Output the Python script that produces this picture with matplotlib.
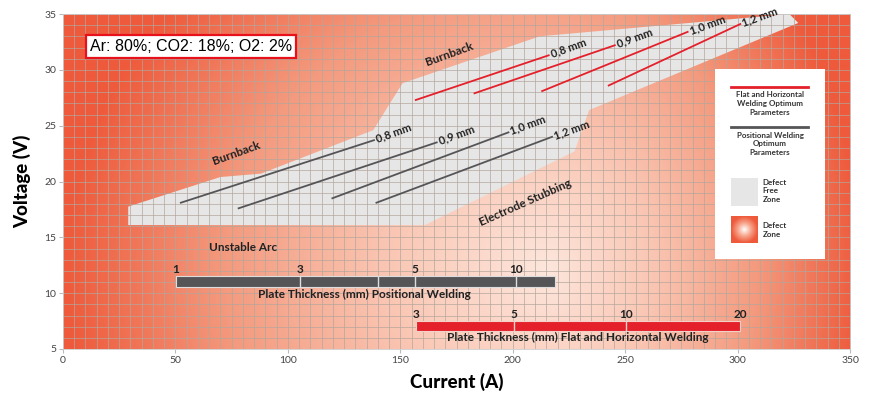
import matplotlib
matplotlib.use("Agg")
import matplotlib.pyplot as plt
import numpy as np
from matplotlib.patches import Polygon, Rectangle
from matplotlib.colors import LinearSegmentedColormap

# wire diameters
wires = ["0,8 mm", "0,9 mm", "1,0 mm", "1,2 mm"]

# positional welding optimum lines: start / end (A, V)
pos_x0 = [52.4, 78.1, 119.8, 139.4]
pos_y0 = [18.1, 17.6, 18.5, 18.1]
pos_x1 = [138.3, 166.2, 198.1, 217.5]
pos_y1 = [23.7, 23.5, 24.4, 24.0]

# flat and horizontal optimum lines
flat_x0 = [156.9, 183.0, 213.1, 242.7]
flat_y0 = [27.3, 27.9, 28.1, 28.6]
flat_x1 = [216.0, 245.4, 277.8, 301.2]
flat_y1 = [31.3, 32.2, 33.4, 34.1]

# defect free zone outline
zone_x = [29, 70, 88, 138, 151, 212, 323, 327, 234, 227.5, 161, 29]
zone_y = [17.75, 20.4, 20.7, 24.6, 28.8, 33.0, 35.0, 34.2, 26.4, 22.7, 16.1, 16.1]

# plate thickness scales (mm -> current)
pos_thick = ["1", "3", "", "5", "10"]
pos_amps = [50.2, 105.5, 140.1, 156.4, 201.5]
pos_end = 218.6
flat_thick = ["3", "5", "10", "20"]
flat_amps = [156.9, 200.4, 250.3, 301.2]

RED = "#e4202a"
DARK = "#555558"
FONT = "Lato"

fig = plt.figure(figsize=(8.71, 3.99), dpi=100)
ax = fig.add_axes([63 / 871, 50 / 399, 787 / 871, 335 / 399])
ax.set_xlim(0, 350)
ax.set_ylim(5, 35)

# background: defect zone gradient, light in the middle, red at the edges
xs = np.linspace(0, 350, 700)
ys = np.linspace(5, 35, 300)
X, Y = np.meshgrid(xs, ys)
rx = np.where(X < 215, 215.0, 140.0)
d = np.sqrt(((X - 215) / rx) ** 2 + ((Y - 12) / 38) ** 2)
d = np.clip(d, 0, 1)
cmap = LinearSegmentedColormap.from_list(
    "bg", ["#fde6dc", "#fac6b3", "#f49a7e", "#ee5a3b"])
ax.imshow(d, extent=[0, 350, 5, 35], origin="lower", cmap=cmap, vmin=0, vmax=1,
          aspect="auto", zorder=0, interpolation="bilinear")

# defect free zone
ax.add_patch(Polygon(np.column_stack([zone_x, zone_y]), closed=True,
                     facecolor="#e6e6e6", edgecolor="none", zorder=1))

# grid every 5 A and 1 V
ax.set_xticks(np.arange(0, 351, 50))
ax.set_yticks(np.arange(5, 36, 5))
ax.set_xticks(np.arange(0, 351, 5), minor=True)
ax.set_yticks(np.arange(5, 36, 1), minor=True)
ax.grid(which="both", color="#b3a69c", alpha=0.7, lw=0.7)
ax.tick_params(which="minor", length=0)
ax.tick_params(which="major", length=3, color="#bbbbbb", labelsize=7.5,
               labelcolor="#444444", pad=2)
for lab in ax.get_xticklabels() + ax.get_yticklabels():
    lab.set_fontfamily(FONT)
for s in ax.spines.values():
    s.set_color("#cccccc")
    s.set_linewidth(0.6)

# optimum parameter lines with wire labels
wire_kw = dict(rotation=20, rotation_mode="anchor", ha="left", va="center",
               fontsize=8, fontweight="bold", family=FONT, color="#222222", zorder=5)
for i, w in enumerate(wires):
    ax.plot([pos_x0[i], pos_x1[i]], [pos_y0[i], pos_y1[i]], color=DARK, lw=1.3, zorder=3)
    ax.text(pos_x1[i] + 1.0, pos_y1[i] + 0.1, w, **wire_kw)
    ax.plot([flat_x0[i], flat_x1[i]], [flat_y0[i], flat_y1[i]], color=RED, lw=1.3, zorder=3)
    ax.text(flat_x1[i] + 1.0, flat_y1[i] + 0.1, w, **wire_kw)

# zone labels
lab_kw = dict(fontsize=8.5, fontweight="bold", family=FONT, color="#222222",
              ha="center", va="center", zorder=5)
ax.text(77, 22.5, "Burnback", rotation=20, **lab_kw)
ax.text(172, 31.4, "Burnback", rotation=20, **lab_kw)
ax.text(80, 14.05, "Unstable Arc", **lab_kw)
ax.text(205.5, 18.1, "Electrode Stubbing", rotation=24, **lab_kw)

# plate thickness bars
ax.add_patch(Rectangle((pos_amps[0], 10.55), pos_end - pos_amps[0], 0.95,
                       facecolor=DARK, edgecolor="#dddddd", lw=0.8, zorder=3))
for a_, t in zip(pos_amps, pos_thick):
    if a_ > pos_amps[0]:
        ax.plot([a_, a_], [10.55, 11.5], color="#dddddd", lw=1.0, zorder=3.5)
    if t:
        ax.text(a_, 11.6, t, ha="center", va="bottom", fontsize=8.5,
                fontweight="bold", family=FONT, color="#222222", zorder=5)
ax.text(134, 9.85, "Plate Thickness (mm) Positional Welding", **lab_kw)

ax.add_patch(Rectangle((flat_amps[0], 6.58), flat_amps[-1] - flat_amps[0], 0.95,
                       facecolor=RED, edgecolor="#f3d0c8", lw=0.8, zorder=3))
for a_, t in zip(flat_amps, flat_thick):
    if flat_amps[0] < a_ < flat_amps[-1]:
        ax.plot([a_, a_], [6.58, 7.53], color="#f3d0c8", lw=1.0, zorder=3.5)
    ax.text(a_, 7.63, t, ha="center", va="bottom", fontsize=8.5,
            fontweight="bold", family=FONT, color="#222222", zorder=5)
ax.text(229, 6.0, "Plate Thickness (mm) Flat and Horizontal Welding", **lab_kw)

# gas mixture box
ax.text(56.9, 32.13, "Ar: 80%; CO2: 18%; O2: 2%", ha="center", va="center",
        fontsize=11.5, family="Liberation Sans", color="black", zorder=6,
        bbox=dict(boxstyle="square,pad=0.25", facecolor="white", edgecolor="#e8101a", lw=1.6))

# legend panel
ax.add_patch(Rectangle((290, 13.05), 49.1, 17.02, facecolor="white",
                       edgecolor="none", zorder=4))
leg_kw = dict(fontsize=5.8, fontweight="bold", family=FONT, color="#333333",
              zorder=6, linespacing=1.3)
ax.plot([297.2, 331.3], [28.43, 28.43], color=RED, lw=2, zorder=5)
ax.text(314.2, 27.0, "Flat and Horizontal\nWelding Optimum\nParameters",
        ha="center", va="center", **leg_kw)
ax.plot([297.2, 331.3], [24.85, 24.85], color=DARK, lw=2, zorder=5)
ax.text(314.5, 23.36, "Positional Welding\nOptimum\nParameters",
        ha="center", va="center", **leg_kw)
ax.add_patch(Rectangle((297.2, 17.78), 11.8, 2.5, facecolor="#e6e6e6",
                       edgecolor="none", zorder=5))
ax.text(311.2, 19.15, "Defect\nFree\nZone", ha="left", va="center", **leg_kw)
gx = np.linspace(-1, 1, 60)
GX, GY = np.meshgrid(gx, gx)
gd = np.clip(np.sqrt(GX ** 2 + GY ** 2), 0, 1)
sq_cmap = LinearSegmentedColormap.from_list("sq", ["#ffffff", "#f7a58c", "#ee5a3b"])
ax.imshow(gd, extent=[297.2, 309.0, 14.49, 16.88], cmap=sq_cmap, vmin=0, vmax=1,
          aspect="auto", zorder=5, interpolation="bilinear")
ax.text(311.2, 15.65, "Defect\nZone", ha="left", va="center", **leg_kw)

ax.set_xlim(0, 350)
ax.set_ylim(5, 35)
ax.set_xlabel("Current (A)", fontsize=13.5, fontweight="black", family=FONT, labelpad=6)
ax.set_ylabel("Voltage (V)", fontsize=13.5, fontweight="black", family=FONT, labelpad=9)

fig.savefig("out.png", dpi=100)
